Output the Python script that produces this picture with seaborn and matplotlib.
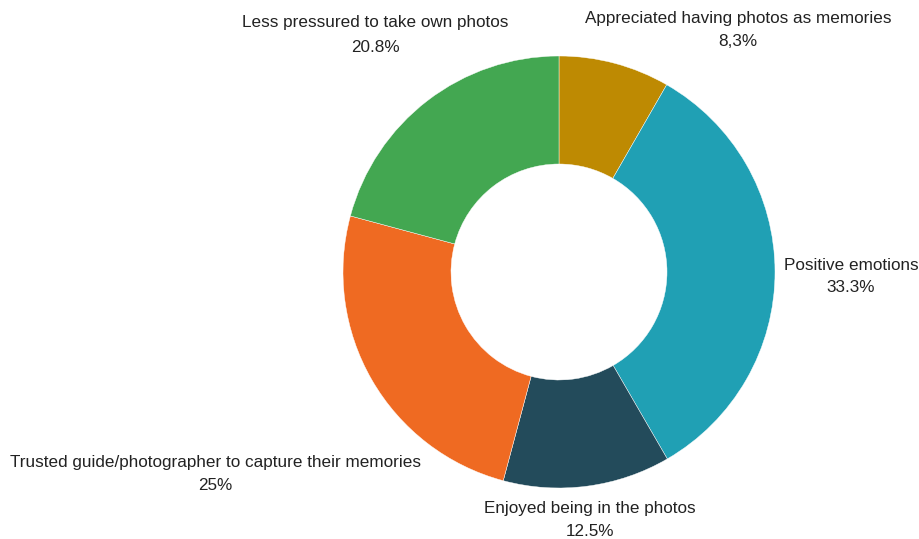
import matplotlib
matplotlib.use("Agg")
import matplotlib.pyplot as plt
import seaborn as sns

# Survey responses, in clockwise order starting from 12 o'clock
categories = [
    "Appreciated having photos as memories",
    "Positive emotions",
    "Enjoyed being in the photos",
    "Trusted guide/photographer to capture their memories",
    "Less pressured to take own photos",
]
shares = [8.3, 33.3, 12.5, 25.0, 20.8]
share_labels = ["8,3%", "33.3%", "12.5%", "25%", "20.8%"]
colors = ["#BE8A02", "#20A0B4", "#234B5B", "#EF6A22", "#43A751"]

sns.set_style("white")
plt.rcParams["font.family"] = ["Liberation Sans", "DejaVu Sans"]

W, H = 919, 539
fig = plt.figure(figsize=(W / 100, H / 100), dpi=100)
ax = fig.add_axes([0, 0, 1, 1])

palette = sns.color_palette(colors)
cx, cy, r = 559, H - 272, 216
ax.pie(
    shares,
    colors=palette,
    startangle=90,
    counterclock=False,
    center=(cx, cy),
    radius=r,
    wedgeprops=dict(width=r * 0.5, edgecolor="white", linewidth=0.3),
    frame=True,
)
ax.set_xlim(0, W)
ax.set_ylim(0, H)
ax.set_aspect("equal")
ax.axis("off")

# Label anchor points (text centre, top line / bottom line)
label_pos = [
    (738, 18, 42),
    (851, 266, 287),
    (590, 508, 531),
    (215, 463, 486),
    (375, 22, 47),
]
for cat, lab, (x, y1, y2) in zip(categories, share_labels, label_pos):
    ax.text(x, H - y1, cat, ha="center", va="center", fontsize=12.3, color="#222222")
    ax.text(x, H - y2, lab, ha="center", va="center", fontsize=12.3, color="#222222")

fig.savefig("out.png", dpi=100)
